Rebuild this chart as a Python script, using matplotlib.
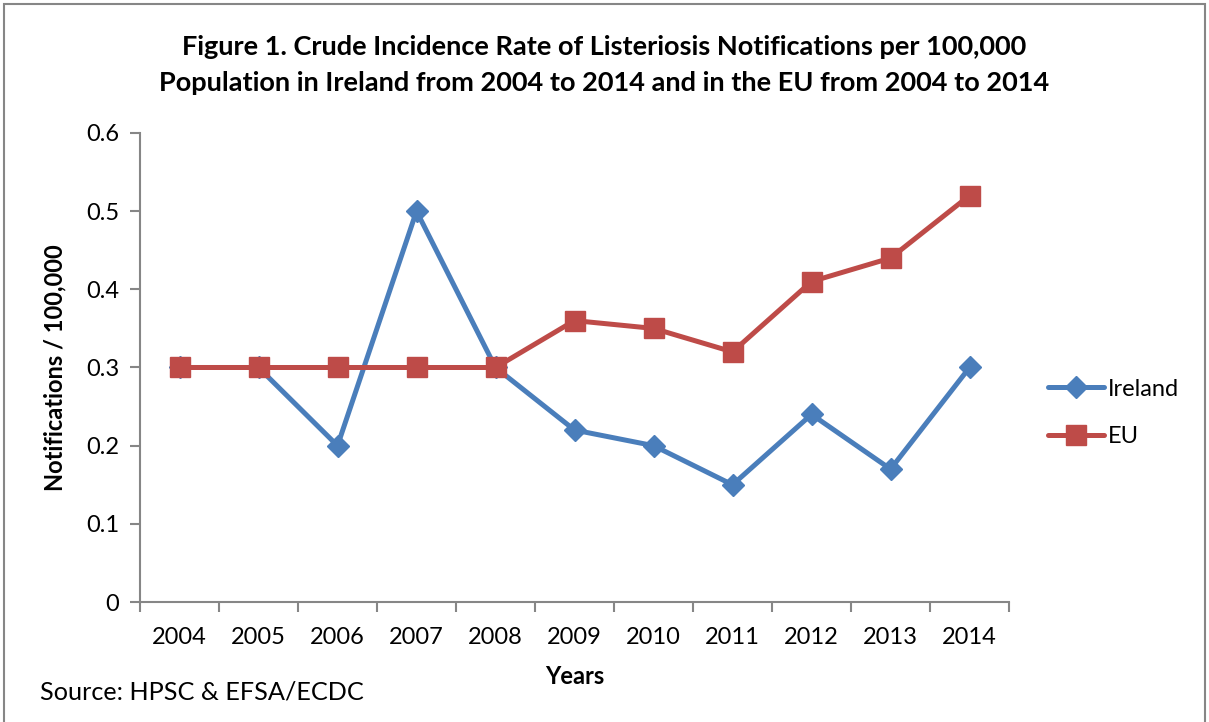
import matplotlib.pyplot as plt
from matplotlib.patches import Rectangle
import numpy as np

years = ["2004", "2005", "2006", "2007", "2008", "2009", "2010", "2011", "2012", "2013", "2014"]
ireland = [0.30, 0.30, 0.20, 0.50, 0.30, 0.22, 0.20, 0.15, 0.24, 0.17, 0.30]
eu = [0.30, 0.30, 0.30, 0.30, 0.30, 0.36, 0.35, 0.32, 0.41, 0.44, 0.52]

title_lines = ["Figure 1. Crude Incidence Rate of Listeriosis Notifications per 100,000",
               "Population in Ireland from 2004 to 2014 and in the EU from 2004 to 2014"]

plt.rcParams['font.family'] = ['Lato', 'DejaVu Sans']

fig = plt.figure(figsize=(12.09, 7.22), dpi=100)
ax = fig.add_axes([0.1158, 0.1662, 0.7188, 0.6496])

x = np.arange(len(years))
ax.plot(x, ireland, color="#4A7EBB", lw=3.6, marker="D", markersize=11.5,
        solid_capstyle="round", label="Ireland")
ax.plot(x, eu, color="#BE4B48", lw=3.6, marker="s", markersize=14,
        solid_capstyle="round", label="EU")

ax.set_xlim(-0.5, len(years) - 0.5)
ax.set_ylim(0, 0.6)
ax.set_yticks(np.arange(0, 0.61, 0.1))
ax.set_yticklabels(["0", "0.1", "0.2", "0.3", "0.4", "0.5", "0.6"], fontsize=17)

ax.set_xticks(x)
ax.set_xticklabels(years, fontsize=17)
ax.set_xticks(np.arange(-0.5, len(years)), minor=True)
ax.tick_params(axis="x", which="major", length=0, pad=18)
ax.tick_params(axis="x", which="minor", length=7, width=1.5, color="#868686", direction="out")
ax.tick_params(axis="y", length=7, width=1.5, color="#868686", direction="out", pad=8)

for s in ["top", "right"]:
    ax.spines[s].set_visible(False)
for s in ["left", "bottom"]:
    ax.spines[s].set_color("#868686")
    ax.spines[s].set_linewidth(1.5)

ax.set_ylabel("Notifications / 100,000", fontsize=17, fontweight="bold", labelpad=14)
fig.text(0.475, 0.063, "Years", fontsize=17, fontweight="bold", ha="center", va="center")
fig.text(0.033, 0.041, "Source: HPSC & EFSA/ECDC", fontsize=18.2, ha="left", va="center")

# titel als zwei zeilen, damit der abstand passt
fig.text(0.5, 1 - 47 / 722, title_lines[0], fontsize=19.5, fontweight="bold",
         ha="center", va="center")
fig.text(0.5, 1 - 83 / 722, title_lines[1], fontsize=19.5, fontweight="bold",
         ha="center", va="center")

fig.legend(loc="center left", bbox_to_anchor=(0.8668, 0.428), frameon=False, borderpad=0,
           borderaxespad=0, fontsize=17, handlelength=2.37, handletextpad=0.15, labelspacing=1.12)

fig.patches.append(Rectangle((0.003, -0.01), 0.994, 1.004, transform=fig.transFigure,
                             fill=False, edgecolor="#868686", lw=1.5))

fig.savefig("out.png", dpi=100)
